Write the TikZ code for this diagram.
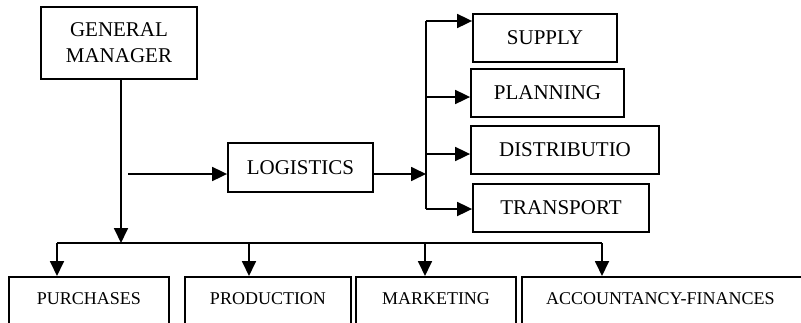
\documentclass[tikz,border=0pt]{standalone}
\usepackage{fontspec}
\setmainfont{Liberation Serif}
\usetikzlibrary{arrows.meta}
\begin{document}
\begin{tikzpicture}[x=1pt,y=-1pt]

		\tikzstyle{unit}=[rectangle,
			draw=black,line width=1.8pt,
			font=\fontsize{21}{26}\selectfont,
			minimum height=48pt,
			align=center,inner sep=0mm]
		\tikzstyle{dept}=[rectangle,
			draw=black,line width=1.8pt,
			font=\fontsize{18}{22}\selectfont,
			anchor=north,inner xsep=0mm,inner ysep=4pt,
			text height=24pt,text depth=30pt]
		\tikzstyle{arrow}=[-{Triangle[length=15pt,width=14pt]},
			draw=black,line width=1.8pt]
		\tikzstyle{line}=[draw=black,line width=1.8pt]

		\useasboundingbox (0,0) rectangle (801,322);

		\node[unit,minimum width=156pt,minimum height=72pt]	(manager)	at (119,43)	{GENERAL\\ MANAGER};
		\node[unit,minimum width=145pt,minimum height=49pt]	(logistics)	at (300.5,167.5)	{LOGISTICS};

		\node[unit,minimum width=144pt]	(supply)	at (545,38)	{SUPPLY};
		\node[unit,minimum width=153pt]	(planning)	at (547.5,93)	{PLANNING};
		\node[unit,minimum width=188pt]	(distribution)	at (565,150)	{DISTRIBUTIO};
		\node[unit,minimum width=176pt]	(transport)	at (561,208)	{TRANSPORT};

		\node[dept,minimum width=160pt]	(purchases)	at (89,276)	{PURCHASES};
		\node[dept,minimum width=166pt]	(production)	at (268,276)	{PRODUCTION};
		\node[dept,minimum width=160pt]	(marketing)	at (436,276)	{MARKETING};
		\node[dept,text width=276pt,align=left,inner xsep=24pt]	(accountancy)	at (684,276)	{ACCOUNTANCY-FINANCES};

		\coordinate	(bus)	at (121,243);
		\coordinate	(bus-a)	at (57,243);
		\coordinate	(bus-b)	at (249,243);
		\coordinate	(bus-c)	at (425,243);
		\coordinate	(bus-d)	at (602,243);
		\coordinate	(feed)	at (128,174);
		\coordinate	(fork)	at (426,174);
		\coordinate	(fork-a)	at (426,21);
		\coordinate	(fork-b)	at (426,97);
		\coordinate	(fork-c)	at (426,154);
		\coordinate	(fork-d)	at (426,209);

		\draw[arrow]	(manager.south -| bus)	--	(bus);
		\draw[line]	(bus-a)		--	(bus-d);
		\draw[arrow]	(bus-a)		--	(bus-a |- purchases.north);
		\draw[arrow]	(bus-b)		--	(bus-b |- production.north);
		\draw[arrow]	(bus-c)		--	(bus-c |- marketing.north);
		\draw[arrow]	(bus-d)		--	(bus-d |- accountancy.north);

		\draw[arrow]	(feed)		--	(logistics.west |- feed);
		\draw[arrow]	(logistics.east |- fork)	--	(fork);

		\draw[line]	(fork-a)	--	(fork-d);
		\draw[arrow]	(fork-a)	--	(supply.west |- fork-a);
		\draw[arrow]	(fork-b)	--	(planning.west |- fork-b);
		\draw[arrow]	(fork-c)	--	(distribution.west |- fork-c);
		\draw[arrow]	(fork-d)	--	(transport.west |- fork-d);

	\end{tikzpicture}
\end{document}
